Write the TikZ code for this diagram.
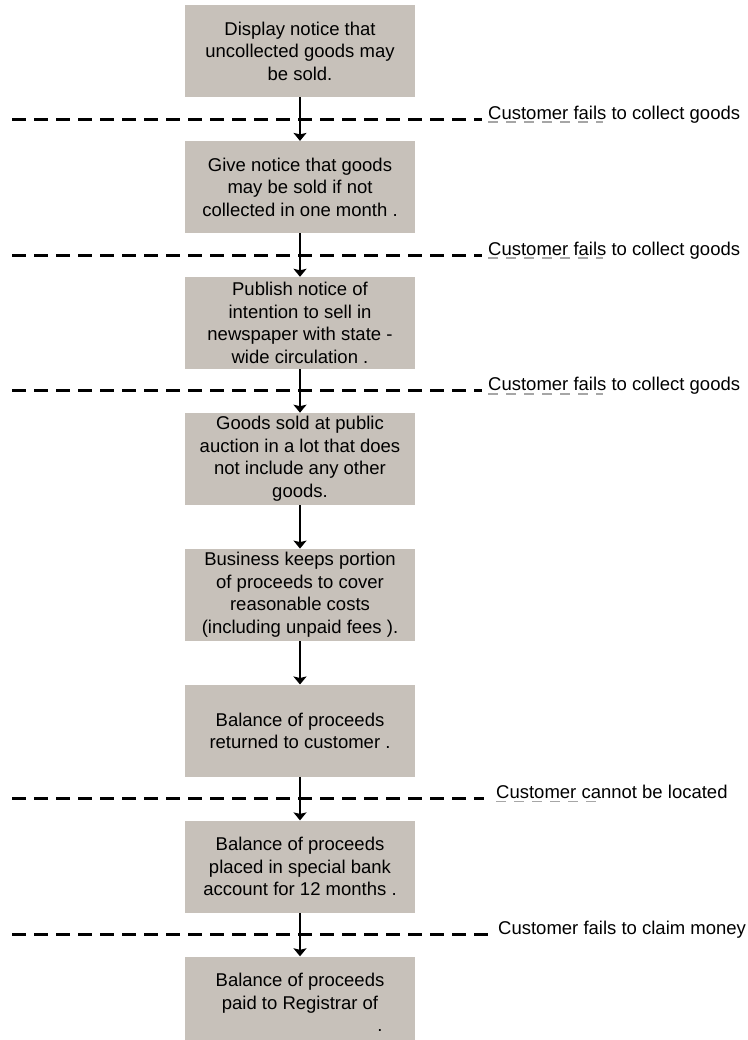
\documentclass[tikz,border=0pt]{standalone}
\usepackage{fontspec}
\setmainfont{Liberation Sans}
\usetikzlibrary{arrows.meta, positioning, calc}
\definecolor{boxgrey}{RGB}{199,193,186}

\begin{document}
\begin{tikzpicture}[
    x=1pt, y=-1pt,
    stage/.style={rectangle, fill=boxgrey, minimum width=230pt, minimum height=92pt,
                  inner sep=0pt, align=center, font=\fontsize{18.5}{22.5}\selectfont},
    cond/.style={anchor=base west, inner sep=0pt, font=\fontsize{18.5}{22.5}\selectfont},
    arrow/.style={line width=2.6pt, ->, >={Stealth[width=13pt, length=8pt, inset=1.5pt]}},
    sepline/.style={line width=3pt, dash pattern=on 14pt off 8pt},
    ghost/.style={black!35, line width=1.6pt, dash pattern=on 10pt off 8pt}
]
\useasboundingbox (0,0) rectangle (747,1040);

\node (notice)    [stage, anchor=north] at (300,5) {Display notice that\\uncollected goods may\\be sold.};
\node (warning)   [stage, below=43.5pt of notice]  {Give notice that goods\\may be sold if not\\collected in one month .};
\node (advert)    [stage, below=43.5pt of warning] {Publish notice of\\intention to sell in\\newspaper with state -\\wide circulation .};
\node (auction)   [stage, below=43.5pt of advert]  {Goods sold at public\\auction in a lot that does\\not include any other\\goods.};
\node (costs)     [stage, below=43.5pt of auction] {Business keeps portion\\of proceeds to cover\\reasonable costs\\(including unpaid fees ).};
\node (refund)    [stage, below=43.5pt of costs]   {Balance of proceeds\\returned to customer .};
\node (account)   [stage, below=43.5pt of refund]  {Balance of proceeds\\placed in special bank\\account for 12 months .};
\node (registrar) [stage, below=43.5pt of account] {Balance of proceeds\\paid to Registrar of\\\hspace*{160pt}.};

% cut-off lines between the stages
\coordinate (edge) at (12,0);
\coordinate (d1) at ($(notice.south)!0.5!(warning.north)$);
\coordinate (d2) at ($(warning.south)!0.5!(advert.north)$);
\coordinate (d3) at ($(advert.south)!0.5!(auction.north)$);
\coordinate (d4) at ($(refund.south)!0.5!(account.north)$);
\coordinate (d5) at ($(account.south)!0.5!(registrar.north)$);

\draw [ghost]   ([xshift=188pt, yshift=-3pt]d1) -- ([xshift=303pt, yshift=-3pt]d1);
\draw [sepline] (edge |- d1) -- ([xshift=182pt]d1);
\node (fail1) [cond] at ([xshift=188pt]d1) {Customer fails to collect goods};

\draw [ghost]   ([xshift=188pt, yshift=-3pt]d2) -- ([xshift=303pt, yshift=-3pt]d2);
\draw [sepline] (edge |- d2) -- ([xshift=182pt]d2);
\node (fail2) [cond] at ([xshift=188pt]d2) {Customer fails to collect goods};

\draw [ghost]   ([xshift=188pt, yshift=-3pt]d3) -- ([xshift=303pt, yshift=-3pt]d3);
\draw [sepline] (edge |- d3) -- ([xshift=182pt]d3);
\node (fail3) [cond] at ([xshift=188pt]d3) {Customer fails to collect goods};

\draw [ghost]   ([xshift=196pt, yshift=-3pt]d4) -- ([xshift=302pt, yshift=-3pt]d4);
\draw [sepline] (edge |- d4) -- ([xshift=184pt]d4);
\node (nolocate) [cond] at ([xshift=196pt]d4) {Customer cannot be located};

\draw [sepline] (edge |- d5) -- ([xshift=190pt]d5);
\node (noclaim) [cond] at ([xshift=198pt]d5) {Customer fails to claim money};

\draw [arrow] (notice)  -- (warning);
\draw [arrow] (warning) -- (advert);
\draw [arrow] (advert)  -- (auction);
\draw [arrow] (auction) -- (costs);
\draw [arrow] (costs)   -- (refund);
\draw [arrow] (refund)  -- (account);
\draw [arrow] (account) -- (registrar);
\end{tikzpicture}
\end{document}
